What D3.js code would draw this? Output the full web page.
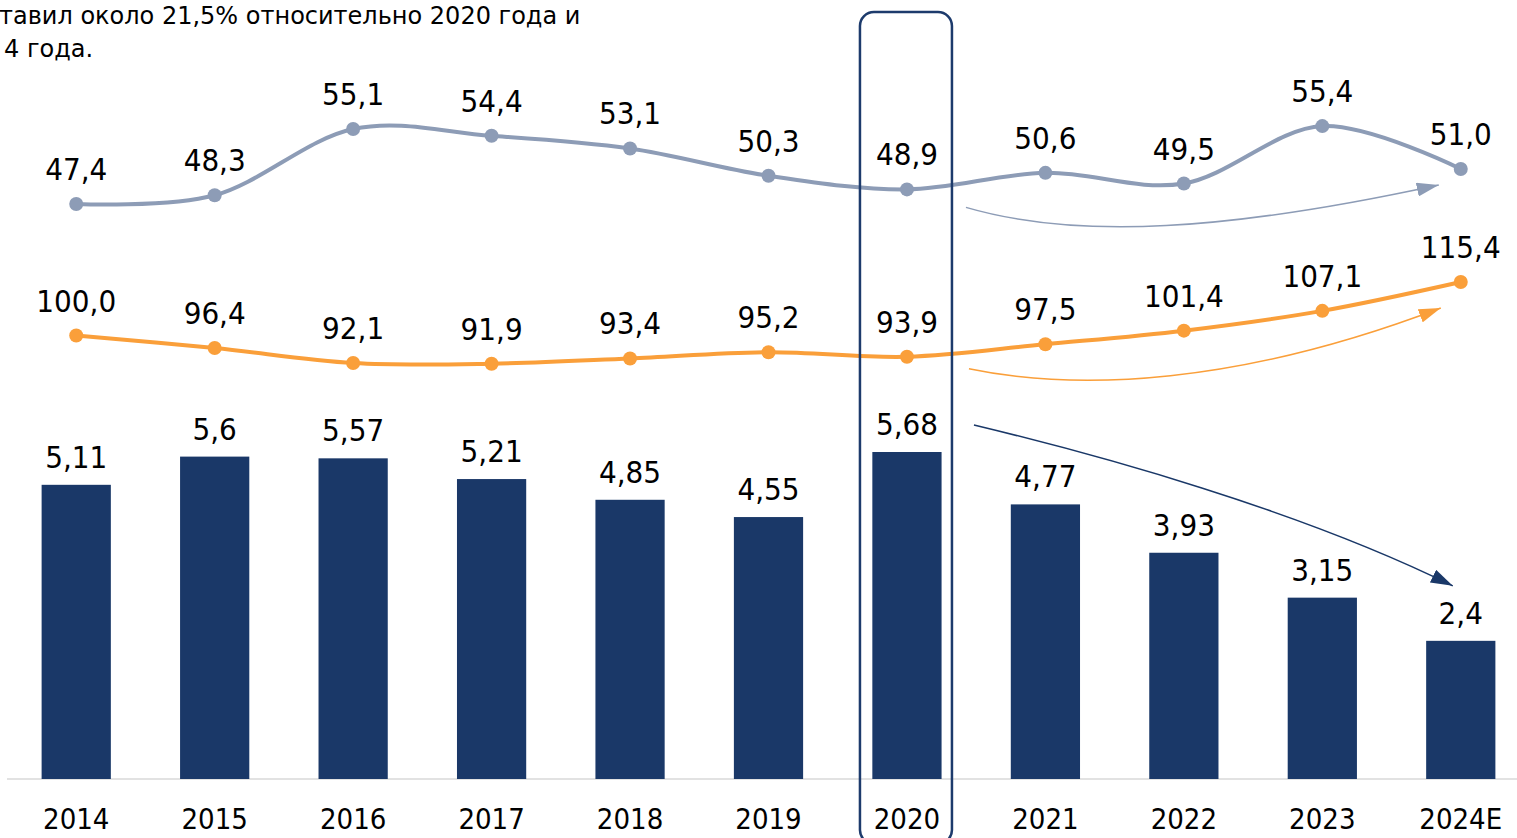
<!DOCTYPE html>
<html>
<head>
<meta charset="utf-8">
<script src="https://cdn.jsdelivr.net/npm/d3@7"></script>
<style>
body { margin: 0; background: #fff; }
svg text { font-family: Tahoma, "DejaVu Sans Condensed", "DejaVu Sans", sans-serif; fill: #000; }
svg text.head { font-family: Tahoma, "DejaVu Sans", sans-serif; }
</style>
</head>
<body>
<script>
var years = ["2014","2015","2016","2017","2018","2019","2020","2021","2022","2023","2024E"]
var barValues = [5.11, 5.6, 5.57, 5.21, 4.85, 4.55, 5.68, 4.77, 3.93, 3.15, 2.4]
var barLabels = ["5,11","5,6","5,57","5,21","4,85","4,55","5,68","4,77","3,93","3,15","2,4"]
var greyValues = [47.4, 48.3, 55.1, 54.4, 53.1, 50.3, 48.9, 50.6, 49.5, 55.4, 51.0]
var orangeValues = [100.0, 96.4, 92.1, 91.9, 93.4, 95.2, 93.9, 97.5, 101.4, 107.1, 115.4]
var headerLines = ["тавил около 21,5% относительно 2020 года и", "4 года."]

var w = 1517, h = 838
var bar_color = "#1a3868", grey_color = "#8d9cb6", orange_color = "#fa9f3a"

var svg = d3.select("body").append("svg")
.attr("width", w)
.attr("height", h)

var x = d3.scaleBand()
.domain(years)
.range([7, 1530])
.paddingInner(0.5)
.paddingOuter(0.25)
var xc = function(d) { return x(d) + x.bandwidth()/2 }

var yBar = d3.scaleLinear().domain([0, 5.68]).range([779, 452])
var yGrey = d3.scaleLinear().domain([47.4, 55.1]).range([204, 129])
var yOrange = d3.scaleLinear().domain([92.1, 115.4]).range([363, 282])

// header text (cut off in the original)
svg.selectAll(".head")
.data(headerLines)
.enter().append("text")
.attr("class", "head")
.attr("x", function(d,i) { return i == 0 ? -1 : 4 })
.attr("y", function(d,i) { return 24 + i*33 })
.style("font-size", "24px")
.text(function(d) { return d })

// axis line
svg.append("line")
.attr("x1", 7).attr("x2", w)
.attr("y1", 779).attr("y2", 779)
.attr("stroke", "#d9d9d9")
.attr("stroke-width", 1.5)

// bars
svg.selectAll(".bar")
.data(barValues)
.enter().append("rect")
.attr("class", "bar")
.attr("x", function(d,i) { return x(years[i]) })
.attr("width", x.bandwidth())
.attr("y", function(d) { return yBar(d) })
.attr("height", function(d) { return yBar(0) - yBar(d) })
.attr("fill", bar_color)

svg.selectAll(".barlabel")
.data(barValues)
.enter().append("text")
.attr("class", "barlabel")
.attr("x", function(d,i) { return xc(years[i]) })
.attr("y", function(d) { return yBar(d) - 17 })
.attr("text-anchor", "middle")
.style("font-size", "31px")
.text(function(d,i) { return barLabels[i] })

// year labels
svg.selectAll(".year")
.data(years)
.enter().append("text")
.attr("class", "year")
.attr("x", function(d) { return xc(d) })
.attr("y", 829)
.attr("text-anchor", "middle")
.style("font-size", "29px")
.text(function(d) { return d })

// lines
var fmt = function(v) { return v.toFixed(1).replace(".", ",") }
function drawLine(values, yScale, color)
{
var line = d3.line()
.x(function(d,i) { return xc(years[i]) })
.y(function(d) { return yScale(d) })
.curve(d3.curveCardinal.tension(0))
svg.append("path")
.datum(values)
.attr("d", line)
.attr("fill", "none")
.attr("stroke", color)
.attr("stroke-width", 4)
svg.selectAll(null)
.data(values)
.enter().append("circle")
.attr("cx", function(d,i) { return xc(years[i]) })
.attr("cy", function(d) { return yScale(d) })
.attr("r", 7)
.attr("fill", color)
svg.selectAll(null)
.data(values)
.enter().append("text")
.attr("x", function(d,i) { return xc(years[i]) })
.attr("y", function(d) { return yScale(d) - 24 })
.attr("text-anchor", "middle")
.style("font-size", "31px")
.text(function(d) { return fmt(d) })
}
drawLine(greyValues, yGrey, grey_color)
drawLine(orangeValues, yOrange, orange_color)

// highlight box around 2020
svg.append("rect")
.attr("x", xc("2020") - 47)
.attr("y", 12)
.attr("width", 92)
.attr("height", 832)
.attr("rx", 14)
.attr("fill", "none")
.attr("stroke", "#1d3b6c")
.attr("stroke-width", 2.5)

// trend arrows
var defs = svg.append("defs")
function marker(id, color)
{
defs.append("marker")
.attr("id", id)
.attr("markerUnits", "userSpaceOnUse")
.attr("viewBox", "0 0 22 14")
.attr("refX", 22).attr("refY", 7)
.attr("markerWidth", 22).attr("markerHeight", 14)
.attr("orient", "auto")
.append("path")
.attr("d", "M0,0 L22,7 L0,14 Z")
.attr("fill", color)
}
marker("ag", grey_color)
marker("ao", orange_color)
marker("an", bar_color)

var x0 = xc("2020"), x1 = xc("2024E")
var arrows = [
{ p: [[x0+59, yGrey(48.9)+18], [x0+172, yGrey(48.9)+51], [x0+322, yGrey(48.9)+41], [x1-22, yGrey(51.0)+16]], c: grey_color, m: "ag", sw: 1.5 },
{ p: [[x0+62, yOrange(93.9)+12], [x0+172, yOrange(93.9)+35], [x0+332, yOrange(93.9)+28], [x1-20, yOrange(115.4)+26]], c: orange_color, m: "ao", sw: 1.5 },
{ p: [[x0+67, yBar(5.68)-27], [x0+192, yBar(5.68)+3], [x0+392, yBar(5.68)+58], [x1-8, yBar(2.4)-55]], c: bar_color, m: "an", sw: 1.5 }
]
svg.selectAll(".arrow")
.data(arrows)
.enter().append("path")
.attr("class", "arrow")
.attr("d", function(d) {
var p = d.p
return "M" + p[0] + "C" + p[1] + " " + p[2] + " " + p[3]
})
.attr("fill", "none")
.attr("stroke", function(d) { return d.c })
.attr("stroke-width", function(d) { return d.sw })
.attr("marker-end", function(d) { return "url(#" + d.m + ")" })
</script>
</body>
</html>
